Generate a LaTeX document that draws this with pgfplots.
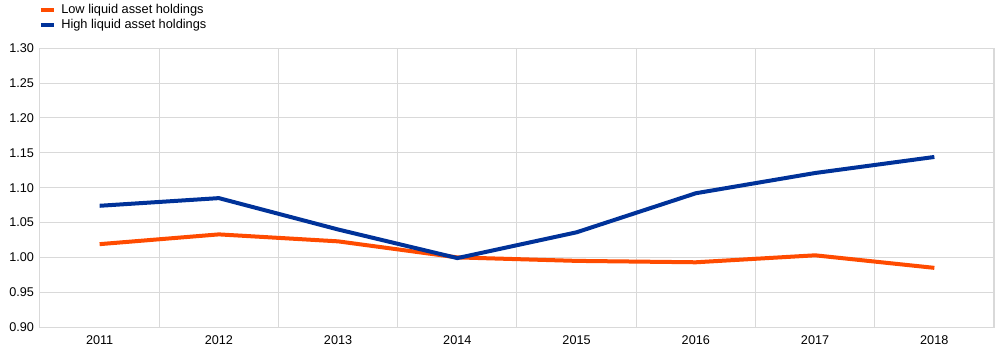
\documentclass[border=0pt]{standalone}
\usepackage{pgfplots}
\pgfplotsset{compat=1.18}
\usepackage{fontspec}
\setmainfont{Liberation Sans}
\definecolor{ecborange}{HTML}{FF4B00}
\definecolor{ecbblue}{HTML}{003299}
\definecolor{gridgray}{HTML}{D9D9D9}
\begin{document}
\begin{tikzpicture}[x=1pt,y=1pt]
\begin{axis}[
  at={(0,0)}, anchor=south west,
  scale only axis,
  width=715.5pt, height=209.25pt,
  xmin=2010.5, xmax=2018.5,
  ymin=0.9, ymax=1.3,
  xtick={2011,...,2018},
  minor xtick={2011.5,2012.5,...,2018.5},
  ytick={0.90,0.95,...,1.31},
  ymajorgrids, xminorgrids,
  grid style={gridgray, line width=0.75pt},
  minor grid style={gridgray, line width=0.75pt},
  axis line style={gridgray, line width=0.75pt},
  major tick length=0pt, minor tick length=0pt,
  tick style={draw=none},
  /pgf/number format/assume math mode=true,
  xticklabel style={font=\fontsize{9.5}{11}\selectfont, /pgf/number format/1000 sep={}, yshift=-3pt},
  yticklabel style={font=\fontsize{9.5}{11}\selectfont, /pgf/number format/fixed, /pgf/number format/fixed zerofill, /pgf/number format/precision=2, xshift=-1pt},
  xticklabel={\pgfmathprintnumber[1000 sep={},fixed,precision=0]{\tick}},
  legend style={at={(0,1)}, anchor=south west, yshift=10pt, xshift=-2pt, draw=none, fill=none,
    font=\fontsize{9.6}{10}\selectfont, row sep=-1pt, inner sep=1pt,
    nodes={inner xsep=4pt}},
  legend cell align=left,
  legend image code/.code={\draw[#1, line width=3pt] (0pt,0pt) -- (9.75pt,0pt);},
]
\addplot[ecborange, line width=3pt] coordinates {
(2011,1.019) (2012,1.033) (2013,1.023) (2014,1.000) (2015,0.995) (2016,0.993) (2017,1.003) (2018,0.985)};
\addlegendentry{Low liquid asset holdings}
\addplot[ecbblue, line width=3pt] coordinates {
(2011,1.074) (2012,1.085) (2013,1.040) (2014,0.999) (2015,1.036) (2016,1.092) (2017,1.121) (2018,1.144)};
\addlegendentry{High liquid asset holdings}
\end{axis}
\path[use as bounding box] (-30pt,-20.25pt) rectangle (723.75pt,245.25pt);
\end{tikzpicture}
\end{document}
